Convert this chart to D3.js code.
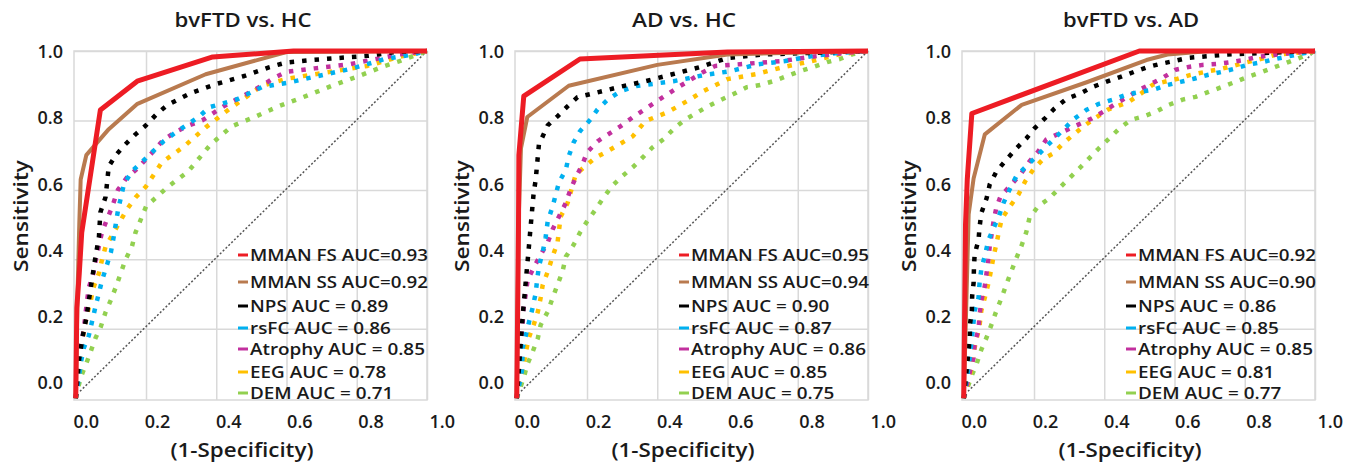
<!DOCTYPE html>
<html>
<head>
<meta charset="utf-8">
<script src="https://cdn.jsdelivr.net/npm/d3@7"></script>
<style>
  body { margin: 0; background: #fff; }
  svg { display: block; font-family: "Open Sans", sans-serif; font-weight: 600; }
</style>
</head>
<body>
<div id="chart"></div>
<script>
// ---- data ----
var panelTitles = ["bvFTD vs. HC", "AD vs. HC", "bvFTD vs. AD"];
var methods = ["MMAN FS", "MMAN SS", "NPS", "rsFC", "Atrophy", "EEG", "DEM"];
var aucFtdHc = [0.93, 0.92, 0.89, 0.86, 0.85, 0.78, 0.71];
var aucAdHc  = [0.95, 0.94, 0.90, 0.87, 0.86, 0.85, 0.75];
var aucFtdAd = [0.92, 0.90, 0.86, 0.85, 0.85, 0.81, 0.77];
var axisTicks = [0, 0.2, 0.4, 0.6, 0.8, 1.0];
var chance = [[0.012, 0.02], [1, 1]];

// [1-specificity, sensitivity] pairs, in the order of `methods`
var rocFtdHc = [
  [[0,0],[0.003,0.26],[0.01,0.36],[0.017,0.477],[0.07,0.83],[0.175,0.913],[0.39,0.983],[0.62,1],[1,1]],
  [[0,0],[0.005,0.3],[0.01,0.5],[0.014,0.63],[0.03,0.7],[0.094,0.775],[0.174,0.847],[0.37,0.933],[0.6,0.997],[1,1]],
  [[0,0],[0.005,0.06],[0.01,0.115],[0.02,0.18],[0.03,0.23],[0.04,0.3],[0.055,0.4],[0.066,0.465],[0.07,0.535],[0.085,0.58],[0.094,0.668],[0.114,0.7],[0.14,0.73],[0.17,0.76],[0.2,0.786],[0.23,0.818],[0.26,0.844],[0.33,0.88],[0.4,0.905],[0.48,0.928],[0.55,0.953],[0.6,0.967],[0.67,0.974],[0.75,0.98],[0.83,0.986],[0.91,0.997],[1,1]],
  [[0,0],[0.009,0.06],[0.014,0.1],[0.023,0.145],[0.037,0.18],[0.056,0.263],[0.075,0.34],[0.1,0.42],[0.108,0.465],[0.12,0.54],[0.137,0.616],[0.16,0.654],[0.19,0.682],[0.22,0.711],[0.25,0.74],[0.285,0.766],[0.35,0.81],[0.38,0.838],[0.46,0.861],[0.53,0.896],[0.61,0.91],[0.69,0.928],[0.78,0.948],[0.83,0.962],[0.88,0.977],[0.96,0.99],[1,1]],
  [[0,0],[0.009,0.11],[0.014,0.153],[0.023,0.197],[0.028,0.246],[0.037,0.318],[0.05,0.36],[0.056,0.393],[0.075,0.48],[0.103,0.55],[0.12,0.6],[0.145,0.635],[0.174,0.66],[0.22,0.71],[0.25,0.745],[0.29,0.77],[0.32,0.785],[0.36,0.8],[0.42,0.84],[0.53,0.9],[0.56,0.92],[0.6,0.94],[0.68,0.95],[0.78,0.962],[0.87,0.98],[0.92,0.99],[1,1]],
  [[0,0],[0.009,0.08],[0.014,0.12],[0.023,0.197],[0.033,0.245],[0.042,0.277],[0.05,0.318],[0.066,0.36],[0.075,0.4],[0.085,0.437],[0.108,0.477],[0.145,0.543],[0.17,0.578],[0.2,0.61],[0.245,0.679],[0.308,0.725],[0.37,0.78],[0.436,0.832],[0.53,0.9],[0.6,0.92],[0.68,0.933],[0.83,0.957],[0.92,0.983],[1,1]],
  [[0,0],[0.014,0.06],[0.028,0.095],[0.042,0.133],[0.056,0.173],[0.071,0.205],[0.085,0.248],[0.1,0.283],[0.114,0.32],[0.128,0.36],[0.142,0.4],[0.16,0.437],[0.17,0.477],[0.2,0.552],[0.26,0.607],[0.32,0.653],[0.384,0.731],[0.444,0.783],[0.507,0.809],[0.578,0.841],[0.655,0.87],[0.73,0.9],[0.806,0.928],[0.88,0.957],[0.92,0.97],[1,1]]
];

var rocAdHc = [
  [[0,0],[0.005,0.5],[0.006,0.7],[0.02,0.87],[0.18,0.977],[0.6,0.997],[1,1]],
  [[0,0],[0.005,0.5],[0.012,0.72],[0.03,0.81],[0.148,0.9],[0.4,0.96],[0.6,0.99],[1,1]],
  [[0,0],[0.01,0.14],[0.017,0.24],[0.026,0.34],[0.034,0.43],[0.04,0.5],[0.048,0.59],[0.054,0.63],[0.063,0.73],[0.088,0.786],[0.116,0.812],[0.145,0.841],[0.173,0.867],[0.21,0.876],[0.29,0.896],[0.366,0.913],[0.443,0.933],[0.523,0.954],[0.6,0.98],[0.7,0.99],[1,1]],
  [[0,0],[0.015,0.08],[0.017,0.145],[0.026,0.182],[0.035,0.22],[0.045,0.26],[0.054,0.303],[0.058,0.341],[0.063,0.379],[0.074,0.422],[0.082,0.462],[0.088,0.509],[0.102,0.552],[0.12,0.621],[0.14,0.659],[0.148,0.697],[0.162,0.737],[0.18,0.769],[0.21,0.803],[0.23,0.832],[0.26,0.861],[0.295,0.884],[0.34,0.899],[0.446,0.913],[0.53,0.93],[0.608,0.942],[0.688,0.962],[0.764,0.971],[0.844,0.986],[0.9,0.993],[1,1]],
  [[0,0],[0.008,0.08],[0.011,0.145],[0.013,0.176],[0.017,0.22],[0.02,0.263],[0.026,0.303],[0.031,0.341],[0.048,0.376],[0.068,0.413],[0.088,0.448],[0.102,0.486],[0.12,0.523],[0.14,0.563],[0.153,0.601],[0.168,0.636],[0.187,0.673],[0.2,0.708],[0.23,0.74],[0.26,0.76],[0.295,0.783],[0.33,0.809],[0.395,0.853],[0.43,0.876],[0.46,0.896],[0.53,0.939],[0.565,0.957],[0.636,0.962],[0.756,0.971],[0.835,0.983],[0.92,0.993],[1,1]],
  [[0,0],[0.011,0.06],[0.02,0.1],[0.026,0.133],[0.034,0.173],[0.048,0.211],[0.06,0.249],[0.068,0.289],[0.074,0.327],[0.088,0.364],[0.102,0.408],[0.116,0.448],[0.125,0.523],[0.145,0.563],[0.168,0.645],[0.224,0.693],[0.258,0.711],[0.33,0.754],[0.366,0.798],[0.43,0.824],[0.494,0.861],[0.53,0.884],[0.6,0.919],[0.68,0.933],[0.76,0.954],[0.84,0.971],[0.92,0.991],[1,1]],
  [[0,0],[0.02,0.06],[0.031,0.1],[0.045,0.133],[0.06,0.173],[0.068,0.211],[0.088,0.249],[0.102,0.289],[0.116,0.327],[0.13,0.364],[0.14,0.408],[0.162,0.442],[0.18,0.477],[0.2,0.509],[0.224,0.543],[0.247,0.578],[0.273,0.613],[0.3,0.639],[0.33,0.665],[0.358,0.693],[0.386,0.722],[0.418,0.746],[0.446,0.775],[0.48,0.803],[0.545,0.841],[0.585,0.861],[0.617,0.876],[0.656,0.896],[0.693,0.902],[0.73,0.913],[0.77,0.928],[0.807,0.942],[0.844,0.954],[0.884,0.968],[0.92,0.977],[0.957,0.991],[1,1]]
];

var rocFtdAd = [
  [[0,0],[0.005,0.5],[0.01,0.63],[0.023,0.82],[0.5,1],[1,1]],
  [[0,0],[0.008,0.3],[0.014,0.53],[0.028,0.633],[0.06,0.76],[0.165,0.845],[0.35,0.91],[0.52,0.974],[0.58,0.99],[0.7,1],[1,1]],
  [[0,0],[0.01,0.1],[0.017,0.172],[0.018,0.215],[0.023,0.252],[0.024,0.295],[0.028,0.332],[0.029,0.375],[0.031,0.415],[0.042,0.455],[0.045,0.493],[0.05,0.533],[0.065,0.576],[0.074,0.616],[0.093,0.653],[0.122,0.688],[0.15,0.72],[0.178,0.748],[0.2,0.776],[0.23,0.805],[0.258,0.834],[0.292,0.862],[0.33,0.877],[0.368,0.897],[0.405,0.911],[0.448,0.926],[0.485,0.94],[0.524,0.954],[0.56,0.963],[0.598,0.971],[0.637,0.98],[0.75,0.99],[1,1]],
  [[0,0],[0.015,0.1],[0.023,0.172],[0.027,0.21],[0.031,0.252],[0.042,0.289],[0.045,0.332],[0.05,0.372],[0.06,0.41],[0.07,0.455],[0.085,0.49],[0.1,0.524],[0.113,0.562],[0.13,0.6],[0.15,0.64],[0.178,0.668],[0.207,0.696],[0.23,0.72],[0.258,0.748],[0.286,0.776],[0.315,0.805],[0.35,0.831],[0.385,0.848],[0.425,0.86],[0.462,0.874],[0.5,0.882],[0.538,0.888],[0.58,0.902],[0.617,0.911],[0.655,0.92],[0.694,0.931],[0.736,0.94],[0.768,0.948],[0.807,0.96],[0.85,0.968],[0.887,0.977],[0.95,0.99],[1,1]],
  [[0,0],[0.017,0.074],[0.028,0.117],[0.031,0.158],[0.042,0.198],[0.045,0.238],[0.05,0.281],[0.06,0.324],[0.065,0.361],[0.07,0.4],[0.074,0.438],[0.08,0.476],[0.085,0.51],[0.093,0.55],[0.105,0.582],[0.136,0.616],[0.164,0.648],[0.187,0.682],[0.212,0.711],[0.235,0.745],[0.264,0.759],[0.326,0.788],[0.363,0.805],[0.397,0.825],[0.428,0.845],[0.467,0.868],[0.5,0.888],[0.533,0.905],[0.57,0.925],[0.603,0.946],[0.64,0.954],[0.68,0.96],[0.722,0.963],[0.76,0.968],[0.796,0.974],[0.838,0.983],[0.92,0.993],[1,1]],
  [[0,0],[0.023,0.089],[0.028,0.132],[0.037,0.172],[0.045,0.209],[0.05,0.252],[0.06,0.29],[0.07,0.33],[0.078,0.37],[0.085,0.41],[0.093,0.444],[0.1,0.48],[0.108,0.516],[0.13,0.55],[0.156,0.587],[0.175,0.625],[0.198,0.659],[0.227,0.69],[0.255,0.705],[0.283,0.734],[0.312,0.759],[0.34,0.782],[0.371,0.805],[0.41,0.831],[0.44,0.842],[0.47,0.854],[0.504,0.877],[0.538,0.903],[0.57,0.911],[0.609,0.92],[0.646,0.931],[0.688,0.94],[0.731,0.948],[0.77,0.958],[0.807,0.968],[0.85,0.978],[0.887,0.989],[1,1]],
  [[0,0],[0.023,0.066],[0.037,0.1],[0.05,0.14],[0.065,0.175],[0.08,0.215],[0.093,0.252],[0.108,0.29],[0.122,0.33],[0.136,0.367],[0.15,0.404],[0.164,0.438],[0.178,0.478],[0.187,0.519],[0.212,0.553],[0.244,0.576],[0.272,0.605],[0.3,0.633],[0.329,0.662],[0.357,0.691],[0.385,0.72],[0.414,0.748],[0.442,0.776],[0.476,0.802],[0.51,0.811],[0.547,0.825],[0.584,0.845],[0.623,0.86],[0.66,0.868],[0.697,0.882],[0.737,0.897],[0.773,0.911],[0.81,0.926],[0.85,0.94],[0.887,0.954],[0.924,0.968],[0.963,0.983],[1,1]]
];

// ---- styling ----
var colors = ["#ed1c24", "#b97a4f", "#000000", "#00b0f0", "#c2309e", "#ffc000", "#92d050"];
var textColor = "#1a1a1a";
var gridColor = "#d9d9d9";

var width = 1360, height = 471;
var plotW = 353, plotTop = 51, plotBottom = 400;
var legendRows = [255, 282, 306, 328, 349, 372, 393];
var titleWidths = [137, 104, 136];

var panels = [
  { title: panelTitles[0], auc: aucFtdHc, roc: rocFtdHc, left: 74 },
  { title: panelTitles[1], auc: aucAdHc,  roc: rocAdHc,  left: 515 },
  { title: panelTitles[2], auc: aucFtdAd, roc: rocFtdAd, left: 962 }
];

// the source font is wider than anything installed, so widen glyphs a bit
function widen(sel, factor) {
  var w = sel.node().getComputedTextLength();
  sel.attr("textLength", w * factor).attr("lengthAdjust", "spacingAndGlyphs");
}

var svg = d3.select("#chart").append("svg")
  .attr("width", width)
  .attr("height", height);

svg.append("rect").attr("width", width).attr("height", height).attr("fill", "#fff");

panels.forEach(function (p, pi) {
  var x = d3.scaleLinear().domain([-0.005, 1]).range([p.left, p.left + plotW]);
  var y = d3.scaleLinear().domain([-0.005, 1]).range([plotBottom, plotTop]);
  // tick labels in the original sit a bit off their gridlines
  var xLab = d3.scaleLinear().domain([0, 1]).range([x(0) + 10, x(0) + 366]);
  var yLab = d3.scaleLinear().domain([0, 1]).range([383, 52]);

  var g = svg.append("g");

  // gridlines
  g.append("g")
    .attr("transform", "translate(0," + plotBottom + ")")
    .call(d3.axisBottom(x).tickValues(axisTicks.slice(1)).tickSize(-(plotBottom - plotTop)).tickFormat(""))
    .call(function (s) { s.select(".domain").remove(); })
    .selectAll("line").attr("stroke", gridColor).attr("stroke-width", 1.5);

  g.append("g")
    .attr("transform", "translate(" + p.left + ",0)")
    .call(d3.axisLeft(y).tickValues(axisTicks.slice(1)).tickSize(-plotW).tickFormat(""))
    .call(function (s) { s.select(".domain").remove(); })
    .selectAll("line").attr("stroke", gridColor).attr("stroke-width", 1.5);

  g.append("rect")
    .attr("x", p.left).attr("y", plotTop)
    .attr("width", plotW).attr("height", plotBottom - plotTop)
    .attr("fill", "none").attr("stroke", gridColor).attr("stroke-width", 1.5);

  // tick labels
  var xAx = g.append("g")
    .attr("transform", "translate(0,415)")
    .call(d3.axisBottom(xLab).tickValues(axisTicks).tickSize(0).tickPadding(0).tickFormat(d3.format(".1f")));
  xAx.select(".domain").remove();
  xAx.attr("font-family", null).attr("font-size", 18)
    .selectAll("text").attr("fill", textColor);

  var yAx = g.append("g")
    .attr("transform", "translate(" + (p.left - 11) + ",0)")
    .call(d3.axisLeft(yLab).tickValues(axisTicks).tickSize(0).tickPadding(0).tickFormat(d3.format(".1f")));
  yAx.select(".domain").remove();
  yAx.attr("font-family", null).attr("font-size", 18)
    .selectAll("text").attr("fill", textColor);

  // chance diagonal
  var line = d3.line().x(function (d) { return x(d[0]); }).y(function (d) { return y(d[1]); });

  g.append("path")
    .datum(chance)
    .attr("d", line)
    .attr("fill", "none")
    .attr("stroke", "#555")
    .attr("stroke-width", 1.5)
    .attr("stroke-dasharray", "2 2");

  // ROC curves, weakest drawn first so red ends on top
  d3.range(methods.length).reverse().forEach(function (i) {
    var path = g.append("path")
      .datum(p.roc[i])
      .attr("d", line)
      .attr("fill", "none")
      .attr("stroke", colors[i])
      .attr("stroke-linejoin", "round");
    if (i === 0) path.attr("stroke-width", 5);
    else if (i === 1) path.attr("stroke-width", 4);
    else path.attr("stroke-width", 4.5).attr("stroke-dasharray", "4.5 8");
  });

  // legend
  methods.forEach(function (m, i) {
    var ly = legendRows[i];
    g.append("line")
      .attr("x1", p.left + 164).attr("x2", p.left + 174)
      .attr("y1", ly).attr("y2", ly)
      .attr("stroke", colors[i]).attr("stroke-width", 3);
    var label = i < 2 ? m + " AUC=" + p.auc[i].toFixed(2) : m + " AUC = " + p.auc[i].toFixed(2);
    var t = g.append("text")
      .attr("x", p.left + 176)
      .attr("y", ly + 6)
      .attr("font-size", 17)
      .attr("fill", textColor)
      .text(label);
    if (i < 2) t.attr("textLength", 178).attr("lengthAdjust", "spacingAndGlyphs");
    else widen(t, 1.11);
  });

  // titles
  g.append("text")
    .attr("x", p.left + plotW / 2 - 7.5)
    .attr("y", 27)
    .attr("text-anchor", "middle")
    .attr("font-size", 20)
    .attr("fill", textColor)
    .attr("textLength", titleWidths[pi])
    .attr("lengthAdjust", "spacingAndGlyphs")
    .text(p.title);

  g.append("text")
    .attr("x", p.left + 168)
    .attr("y", 457)
    .attr("text-anchor", "middle")
    .attr("font-size", 20)
    .attr("fill", textColor)
    .attr("textLength", 143)
    .attr("lengthAdjust", "spacingAndGlyphs")
    .text("(1-Specificity)");

  g.append("text")
    .attr("transform", "translate(" + (p.left - 53) + ",216) rotate(-90)")
    .attr("text-anchor", "middle")
    .attr("dy", "0.35em")
    .attr("font-size", 20)
    .attr("fill", textColor)
    .attr("textLength", 112)
    .attr("lengthAdjust", "spacingAndGlyphs")
    .text("Sensitivity");
});
</script>
</body>
</html>
